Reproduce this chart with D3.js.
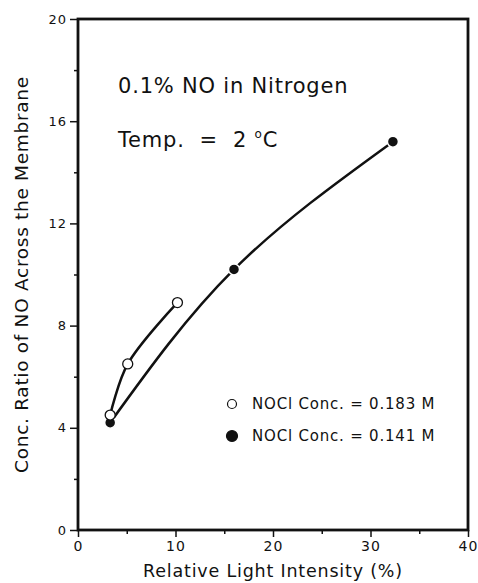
<!DOCTYPE html>
<html>
<head>
<meta charset="utf-8">
<script src="https://cdn.jsdelivr.net/npm/d3@7"></script>
<style>
  body { margin: 0; background: #fff; }
  svg { display: block; }
  text { font-family: "DejaVu Sans", sans-serif; fill: #111; }
</style>
</head>
<body>
<script>
// data
const openX = [3.3, 5.1, 10.2];
const openY = [4.5, 6.5, 8.9];
const filledX = [3.3, 16.0, 32.3];
const filledY = [4.2, 10.2, 15.2];
const xTicks = [0, 10, 20, 30, 40];
const yTicks = [0, 4, 8, 12, 16, 20];
const legendLabels = ["NOCl Conc. = 0.183 M", "NOCl Conc. = 0.141 M"];

const width = 478, height = 583;
const svg = d3.select("body").append("svg")
    .attr("width", width)
    .attr("height", height);

// axes box
const x = d3.scaleLinear().domain([0, 40]).range([78, 468]);
const y = d3.scaleLinear().domain([0, 20]).range([530, 19]);

svg.append("rect")
    .attr("x", x(0)).attr("y", y(20))
    .attr("width", x(40) - x(0)).attr("height", y(0) - y(20))
    .attr("fill", "none").attr("stroke", "#111").attr("stroke-width", 2.8);

// minor ticks
svg.append("g")
    .attr("transform", `translate(0,${y(0)})`)
    .call(d3.axisBottom(x).tickValues([5, 15, 25, 35]).tickSize(4).tickFormat(""))
    .call(g => g.select(".domain").remove())
    .selectAll("line").attr("stroke", "#111").attr("stroke-width", 1.5);

svg.append("g")
    .attr("transform", `translate(${x(0)},0)`)
    .call(d3.axisLeft(y).tickValues([2, 6, 10, 14, 18]).tickSize(4).tickFormat(""))
    .call(g => g.select(".domain").remove())
    .selectAll("line").attr("stroke", "#111").attr("stroke-width", 1.5);

// major ticks
const xAxis = svg.append("g")
    .attr("transform", `translate(0,${y(0)})`)
    .call(d3.axisBottom(x).tickValues(xTicks).tickSize(7).tickPadding(4))
    .call(g => g.select(".domain").remove());
xAxis.selectAll("line").attr("stroke", "#111").attr("stroke-width", 1.5);
xAxis.selectAll("text")
    .style("font-size", "14px").style("font-family", "DejaVu Sans")
    .style("letter-spacing", "1px").attr("fill", "#111");

const yAxis = svg.append("g")
    .attr("transform", `translate(${x(0)},0)`)
    .call(d3.axisLeft(y).tickValues(yTicks).tickSize(8).tickPadding(3))
    .call(g => g.select(".domain").remove());
yAxis.selectAll("line").attr("stroke", "#111").attr("stroke-width", 1.5);
yAxis.selectAll("text")
    .style("font-size", "13px").style("font-family", "DejaVu Sans")
    .style("letter-spacing", "1px").attr("fill", "#111");

// axis titles
svg.append("text")
    .attr("x", (x(0) + x(40)) / 2).attr("y", 577)
    .attr("text-anchor", "middle")
    .style("font-size", "17.5px")
    .style("letter-spacing", "0.8px")
    .text("Relative Light Intensity (%)");

svg.append("text")
    .attr("transform", `translate(28,${(y(0) + y(20)) / 2}) rotate(-90)`)
    .attr("text-anchor", "middle")
    .style("font-size", "18.5px")
    .style("letter-spacing", "0.7px")
    .text("Conc. Ratio of NO Across the Membrane");

// annotations
svg.append("text")
    .attr("x", 118).attr("y", 93)
    .style("font-size", "21px")
    .style("letter-spacing", "0.8px")
    .text("0.1% NO in Nitrogen");

const t = svg.append("text")
    .attr("x", 118).attr("y", 147)
    .style("font-size", "21px")
    .style("letter-spacing", "0.8px")
    .attr("xml:space", "preserve");
t.append("tspan").text("Temp.  =  2 ");
t.append("tspan").attr("dy", -9).style("font-size", "12px").text("o");
t.append("tspan").attr("dy", 9).text("C");

// curves
const openPts = openX.map((v, i) => [v, openY[i]]);
const filledPts = filledX.map((v, i) => [v, filledY[i]]);

svg.append("path")
    .attr("d", d3.line().x(d => x(d[0])).y(d => y(d[1])).curve(d3.curveCatmullRom.alpha(0.5))(openPts))
    .attr("fill", "none").attr("stroke", "#111").attr("stroke-width", 2.5);

svg.append("path")
    .attr("d", d3.line().x(d => x(d[0])).y(d => y(d[1])).curve(d3.curveNatural)(filledPts))
    .attr("fill", "none").attr("stroke", "#111").attr("stroke-width", 2.5);

// markers
svg.append("g").selectAll("circle")
    .data(filledPts)
    .enter().append("circle")
    .attr("cx", d => x(d[0])).attr("cy", d => y(d[1]))
    .attr("r", 5.5)
    .attr("fill", "#111").attr("stroke", "#fff").attr("stroke-width", 1.5);

svg.append("g").selectAll("circle")
    .data(openPts)
    .enter().append("circle")
    .attr("cx", d => x(d[0])).attr("cy", d => y(d[1]))
    .attr("r", 5)
    .attr("fill", "#fff").attr("stroke", "#111").attr("stroke-width", 1.3);

// legend
const leg = svg.append("g");
legendLabels.forEach((lab, i) => {
    const ly = 404 + i * 32;
    leg.append("circle")
        .attr("cx", 232).attr("cy", ly)
        .attr("r", i === 0 ? 4.5 : 5.5)
        .attr("fill", i === 0 ? "#fff" : "#111")
        .attr("stroke", "#111").attr("stroke-width", 1.2);
    leg.append("text")
        .attr("x", 252).attr("y", ly + 5)
        .style("font-size", "15px")
        .style("letter-spacing", "0.8px")
        .text(lab);
});
</script>
</body>
</html>
